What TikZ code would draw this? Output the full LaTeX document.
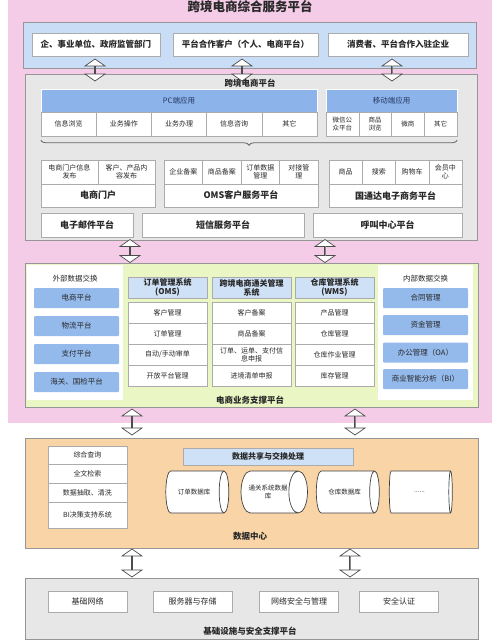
\documentclass[tikz,border=0pt]{standalone}
\usepackage{fontspec}
\setmainfont{Noto Sans CJK SC}
\usepackage{tikz}
\usetikzlibrary{positioning,shapes.geometric,shapes.arrows,decorations.pathreplacing}
\usepackage{xcolor}
\definecolor{bgpink}{RGB}{245,204,232}
\definecolor{bandblue}{RGB}{201,221,246}
\definecolor{panelgray}{RGB}{231,231,231}
\definecolor{headblue}{RGB}{141,180,234}
\definecolor{boxblue}{RGB}{148,186,236}
\definecolor{colblue}{RGB}{207,225,246}
\definecolor{softgreen}{RGB}{234,246,196}
\definecolor{softorange}{RGB}{249,212,166}
\definecolor{edgegray}{RGB}{150,150,150}
\definecolor{textdark}{RGB}{40,40,40}
\definecolor{navytext}{RGB}{35,55,100}
\newcommand{\moredots}{......}
\tikzset{
  panel/.style={rectangle, draw=edgegray, line width=0.6pt, inner sep=0pt},
  cell/.style={rectangle, draw=edgegray!80, fill=white, line width=0.5pt, inner sep=0.5pt,
               align=center, text=textdark, font=\fontsize{7}{8}\selectfont},
  bigcell/.style={cell, font=\bfseries\fontsize{9}{10}\selectfont},
  userbox/.style={cell, font=\bfseries\fontsize{8.5}{10}\selectfont, minimum height=23},
  bluehead/.style={cell, fill=headblue, draw=white, text=navytext, minimum height=23,
                   font=\fontsize{7.5}{8.5}\selectfont},
  bluebox/.style={rectangle, fill=boxblue, rounded corners=1pt, minimum width=85, minimum height=20,
                  text=textdark, font=\fontsize{7.5}{8.5}\selectfont},
  colhead/.style={cell, fill=colblue, minimum width=79, minimum height=21,
                  font=\bfseries\fontsize{8}{9}\selectfont},
  paneltitle/.style={text=textdark, font=\bfseries\fontsize{8.5}{10}\selectfont},
  sidetitle/.style={text=textdark, font=\fontsize{7.5}{8.5}\selectfont},
  dblarrow/.style={double arrow, draw=black!70, fill=white, line width=0.7pt, rotate=90,
                   minimum width=20, double arrow head extend=5.5, double arrow tip angle=110,
                   inner sep=0pt},
  dbcyl/.style={cylinder, draw=black!75, fill=white, line width=0.7pt, aspect=1.2,
                minimum width=42, minimum height=63, inner sep=1pt, align=center,
                text=textdark, font=\fontsize{6.5}{7.5}\selectfont},
}

\begin{document}
\begin{tikzpicture}[x=1pt, y=-1pt]
\useasboundingbox (0,0) rectangle (500,641);
\fill[bgpink] (8,0) rectangle (492,423);
\node[font=\bfseries\fontsize{12.5}{14}\selectfont, text=textdark] (maintitle) at (250,7) {跨境电商综合服务平台};

% users
\node[panel, fill=bandblue, minimum width=453, minimum height=46] (users) at (249.5,45) {};
\node[userbox, minimum width=128] (u1) at (96,44.5) {企、事业单位、政府监管部门};
\node[userbox, minimum width=145] (u2) at (245.5,44.5) {平台合作客户（个人、电商平台）};
\node[userbox, minimum width=140] (u3) at (398,44.5) {消费者、平台合作入驻企业};

% web platform
\node[panel, fill=panelgray, minimum width=452, minimum height=166] (web) at (251,157) {};
\node[paneltitle] (webtitle) at (250,83) {跨境电商平台};
\node[bluehead, minimum width=276] (pc) at (179,100.5) {PC端应用};
\foreach \t [count=\i] in {信息浏览,业务操作,业务办理,信息咨询,其它}
  \node[cell, minimum width=55.2, minimum height=24] (pc\i) at ({41+55.2*(\i-0.5)},124) {\t};
\node[bluehead, minimum width=131] (mob) at (391.5,100.5) {移动端应用};
\foreach \t [count=\i] in {微信公\\众平台,商品\\浏览,微商,其它}
  \node[cell, minimum width=32.75, minimum height=24, font=\fontsize{6.5}{7.5}\selectfont] (mob\i) at ({326+32.75*(\i-0.5)},124) {\t};
\path (pc1.south west) ++(0,4) coordinate (bl) (mob4.south east) ++(0,4) coordinate (br);
\draw[decorate, decoration={brace, mirror, amplitude=5pt}, black!60, line width=0.8pt] (bl) -- (br);

\foreach \t [count=\i] in {电商门户信息\\发布,客户、产品内\\容发布}
  \node[cell, minimum width=57, minimum height=24] (por\i) at ({41+57*(\i-0.5)},172) {\t};
\foreach \t [count=\i] in {企业备案,商品备案,订单数据\\管理,对接管\\理}
  \node[cell, minimum width=38.5, minimum height=24] (omc\i) at ({164+38.5*(\i-0.5)},172) {\t};
\foreach \t [count=\i] in {商品,搜索,购物车,会员中\\心}
  \node[cell, minimum width=33.25, minimum height=24] (gtd\i) at ({329+33.25*(\i-0.5)},172) {\t};
\node[bigcell, minimum width=114, minimum height=23] (portal) at (98,195.5) {电商门户};
\node[bigcell, minimum width=154, minimum height=23] (omscs) at (241,195.5) {OMS客户服务平台};
\node[bigcell, minimum width=133, minimum height=23] (gtd) at (395.5,195.5) {国通达电子商务平台};
\node[bigcell, minimum width=92, minimum height=24] (mail) at (87,225) {电子邮件平台};
\node[bigcell, minimum width=162, minimum height=24] (sms) at (223,225) {短信服务平台};
\node[bigcell, minimum width=149, minimum height=24] (call) at (387.5,225) {呼叫中心平台};

% business support platform
\node[panel, fill=softgreen, minimum width=453, minimum height=144] (biz) at (251.5,335) {};
\node[rectangle, fill=white, minimum width=96, minimum height=135] (ext) at (75,332.5) {};
\node[sidetitle] (exttitle) at (75,279) {外部数据交换};
\foreach \t/\y [count=\i] in {电商平台/298,物流平台/326,支付平台/354,海关、国检平台/382}
  \node[bluebox] (ext\i) at (76.5,\y) {\t};
\node[rectangle, fill=white, minimum width=95, minimum height=135] (int) at (425.5,332.5) {};
\node[sidetitle] (inttitle) at (425.5,279) {内部数据交换};
\foreach \t/\y [count=\i] in {合同管理/298,资金管理/325,办公管理（OA）/352.5,商业智能分析（BI）/379}
  \node[bluebox] (int\i) at (425.5,\y) {\t};

\node[colhead] (oms) at (167.5,287.5) {订单管理系统\\(OMS)};
\node[colhead] (cus) at (251.5,287.5) {跨境电商通关管理\\系统};
\node[colhead] (wms) at (334.5,287.5) {仓库管理系统\\(WMS)};
\foreach \t [count=\i] in {客户管理,订单管理,自动/手动审单,开放平台管理}
  \node[cell, minimum width=79, minimum height=21] (oms\i) at (167.5,{302+21*(\i-0.5)}) {\t};
\foreach \t [count=\i] in {客户备案,商品备案,订单、运单、支付信\\息申报,进境清单申报}
  \node[cell, minimum width=79, minimum height=21] (cus\i) at (251.5,{302+21*(\i-0.5)}) {\t};
\foreach \t [count=\i] in {产品管理,仓库管理,仓库作业管理,库存管理}
  \node[cell, minimum width=79, minimum height=21] (wms\i) at (334.5,{302+21*(\i-0.5)}) {\t};
\node[paneltitle] (biztitle) at (250,400) {电商业务支撑平台};

% data center
\node[panel, fill=softorange, minimum width=453, minimum height=110] (data) at (251.5,493) {};
\node[cell, minimum width=79, minimum height=18] (q1) at (87.5,455) {综合查询};
\node[cell, minimum width=79, minimum height=19] (q2) at (87.5,473.5) {全文检索};
\node[cell, minimum width=79, minimum height=19] (q3) at (87.5,492.5) {数据抽取、清洗};
\node[cell, minimum width=79, minimum height=26] (q4) at (87.5,515) {BI决策支持系统};
\node[cell, fill=colblue, minimum width=170, minimum height=17,
      font=\bfseries\fontsize{8}{9}\selectfont] (share) at (268,456.5) {数据共享与交换处理};
\foreach \t/\x [count=\i] in {订单数据库/194,通关系统数据\\库/268,仓库数据库/344.5,\moredots/419.5}
  \node[dbcyl] (db\i) at (\x,492) {\t};
\node[paneltitle] (datatitle) at (250,536) {数据中心};

% infrastructure
\node[panel, fill=panelgray, minimum width=453, minimum height=61] (infra) at (251.5,608.5) {};
\foreach \t/\x [count=\i] in {基础网络/87.5,服务器与存储/192.5,网络安全与管理/299,安全认证/399}
  \node[cell, minimum width=79, minimum height=21, font=\fontsize{8}{9}\selectfont] (inf\i) at (\x,601.5) {\t};
\node[paneltitle] (infratitle) at (250,631) {基础设施与安全支撑平台};

% block arrows between layers
\foreach \x [count=\i] in {95,242,392}
  \node[dblarrow, minimum height=22] (ua\i) at (\x,70) {};
\foreach \x [count=\i] in {130,325}
  \node[dblarrow, minimum height=23] (wa\i) at (\x,251) {};
\foreach \x [count=\i] in {132,355}
  \node[dblarrow, minimum height=26] (ba\i) at (\x,422) {};
\foreach \x [count=\i] in {132,350}
  \node[dblarrow, minimum height=28] (da\i) at (\x,563) {};
\end{tikzpicture}
\end{document}
